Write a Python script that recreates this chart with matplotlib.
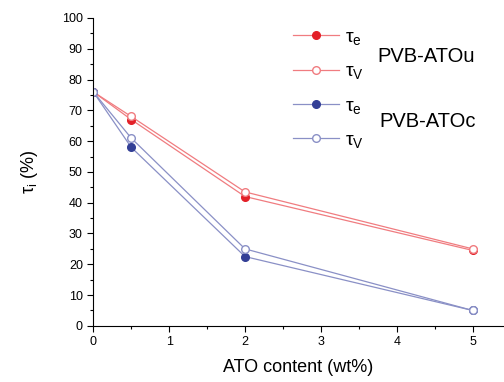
import numpy as np
import matplotlib
matplotlib.use("Agg")
import matplotlib.pyplot as plt
from matplotlib.ticker import MultipleLocator

plt.rcParams['font.family'] = ['Liberation Sans', 'DejaVu Sans']
plt.rcParams['mathtext.fontset'] = 'custom'
plt.rcParams['mathtext.rm'] = 'Liberation Sans'
plt.rcParams['mathtext.it'] = 'Liberation Sans'

ato = [0, 0.5, 2, 5]
u_tau_e = [76, 67, 42, 24.5]
u_tau_v = [76, 68, 43.5, 25]
c_tau_e = [76, 58, 22.5, 5]
c_tau_v = [76, 61, 25, 5]

red = '#e32028'
red_line = '#f07c80'
blue = '#333f96'
blue_line = '#8a90c6'

fig = plt.figure(figsize=(5.04, 3.82), dpi=100)
ax = fig.add_axes([0.185, 0.147, 0.813, 0.806])

ax.plot(ato, u_tau_e, '-o', color=red_line, lw=0.9, ms=5.5,
        mfc=red, mec=red, label=r'$\tau_e$')
ax.plot(ato, u_tau_v, '-o', color=red_line, lw=0.9, ms=5.5,
        mfc='white', mec=red_line, label=r'$\tau_V$')
ax.plot(ato, c_tau_e, '-o', color=blue_line, lw=0.9, ms=5.5,
        mfc=blue, mec=blue, label=r'$\tau_e$')
ax.plot(ato, c_tau_v, '-o', color=blue_line, lw=0.9, ms=5.5,
        mfc='white', mec=blue_line, label=r'$\tau_V$')

ax.set_xlim(0, 5.4)
ax.set_ylim(0, 100)
ax.xaxis.set_major_locator(MultipleLocator(1))
ax.xaxis.set_minor_locator(MultipleLocator(0.5))
ax.yaxis.set_major_locator(MultipleLocator(10))
ax.yaxis.set_minor_locator(MultipleLocator(5))
ax.spines['top'].set_visible(False)
ax.spines['right'].set_visible(False)
ax.tick_params(which='major', direction='out', length=4, width=0.8, labelsize=9)
ax.tick_params(which='minor', direction='out', length=2.5, width=0.8)

ax.set_xlabel('ATO content (wt%)', fontsize=13, labelpad=8)
ax.set_ylabel(r'$\tau_i$ (%)', fontsize=13, labelpad=16)

leg = fig.legend(loc='upper left', bbox_to_anchor=(0.581, 0.925), frameon=False,
                 fontsize=14, handlelength=2.4, labelspacing=0.8,
                 handletextpad=0.3, borderpad=0, borderaxespad=0)

fig.text(0.748, 0.853, 'PVB-ATOu', fontsize=14.5, va='center')
fig.text(0.752, 0.682, 'PVB-ATOc', fontsize=14.5, va='center')

fig.savefig('out.png', dpi=100)
